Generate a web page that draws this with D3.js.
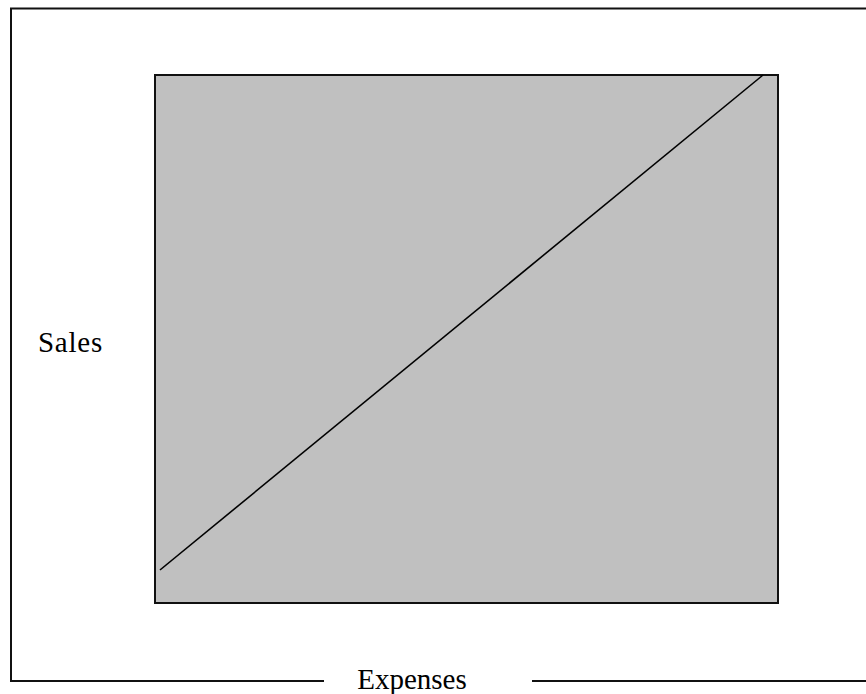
<!DOCTYPE html>
<html><head><meta charset="utf-8">
<script src="https://cdn.jsdelivr.net/npm/d3@7"></script>
<style>body{margin:0;background:#fff}svg{display:block}
.lbl{font-family:"Times New Roman",Times,"Liberation Serif",serif;font-size:29px;fill:#000}</style>
</head><body>
<script>
const expenses = [0.8, 97.6];
const sales = [6.25, 100];
const xLabel = "Expenses";
const yLabel = "Sales";

const W = 866, H = 694;
const svg = d3.select("body").append("svg").attr("width", W).attr("height", H);

const plot = {left:155, top:75, right:778, bottom:603};
const x = d3.scaleLinear().domain([0,100]).range([plot.left, plot.right]);
const y = d3.scaleLinear().domain([0,100]).range([plot.bottom, plot.top]);

// outer frame
const frame = svg.append("g").attr("stroke","#111").attr("stroke-width",2).attr("fill","none");
frame.append("path").attr("d", `M866,8.5 H11 V681 H324`);
frame.append("path").attr("d", `M532,681 H866`);

// plot area
svg.append("rect").attr("x", x(0)).attr("y", y(100))
  .attr("width", x(100)-x(0)).attr("height", y(0)-y(100))
  .attr("fill","#c0c0c0").attr("stroke","#111").attr("stroke-width",2);

const line = d3.line().x(d=>x(d[0])).y(d=>y(d[1]));
svg.append("path").datum(expenses.map((e,i)=>[e, sales[i]]))
  .attr("d", line).attr("fill","none").attr("stroke","#000").attr("stroke-width",1.6);

svg.append("text").attr("class","lbl").attr("x", 70.5).attr("y", 352).attr("text-anchor","middle").attr("letter-spacing", 0.8).text(yLabel);
svg.append("text").attr("class","lbl").attr("x", 412).attr("y", 689).attr("text-anchor","middle").text(xLabel);
</script>
</body></html>
